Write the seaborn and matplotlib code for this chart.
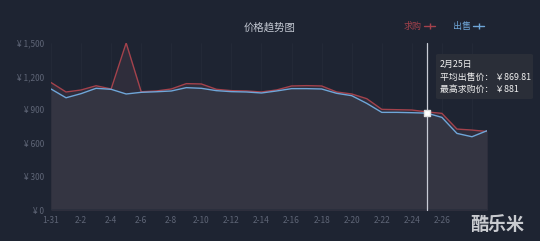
import matplotlib
matplotlib.use("Agg")
import matplotlib.pyplot as plt
import seaborn as sns
import pandas as pd
import numpy as np
from matplotlib.patches import FancyBboxPatch

dates = ["1-31"] + [f"2-{d}" for d in range(1, 30)]
sell_prices = [1087, 1008, 1045, 1093, 1084, 1042, 1057, 1062, 1069, 1099,
               1093, 1072, 1063, 1060, 1051, 1069, 1090, 1090, 1087, 1048,
               1027, 958, 877, 877, 874, 869.81, 832, 688, 658, 712]
buy_prices = [1145, 1060, 1078, 1116, 1087, 1500, 1062, 1069, 1087, 1135,
              1132, 1084, 1072, 1069, 1060, 1078, 1114, 1117, 1114, 1060,
              1042, 1000, 904, 901, 898, 881, 868, 727, 718, 705]
yticks = [0, 300, 600, 900, 1200, 1500]
ytick_labels = ["¥ 0", "¥ 300", "¥ 600", "¥ 900", "¥ 1,200", "¥ 1,500"]
title = "价格趋势图"
legend_names = ["求购", "出售"]
hover_idx = 25
tooltip_lines = ["2月25日", "平均出售价： ￥869.81", "最高求购价： ￥881"]

BG = "#1e2432"
RED = "#a4424c"
BLUE = "#6fa6d8"

sns.set_theme(style="dark")
plt.rcParams['font.family'] = ['Noto Sans CJK SC', 'DejaVu Sans']

df = pd.DataFrame({"x": np.arange(len(dates)), "date": dates,
                   "sell": sell_prices, "buy": buy_prices})

fig = plt.figure(figsize=(5.4, 2.41), dpi=100, facecolor=BG)
ax = fig.add_axes([51/540, 1-210/241, (487-51)/540, (210-43)/241])
ax.set_facecolor(BG)

ax.fill_between(df["x"], df["buy"], color="#2f2d3b", alpha=1.0, lw=0, zorder=1)
ax.fill_between(df["x"], df["sell"], color="#343542", alpha=1.0, lw=0, zorder=1.5)

sns.lineplot(data=df, x="x", y="buy", ax=ax, color=RED, lw=1.0, zorder=3)
sns.lineplot(data=df, x="x", y="sell", ax=ax, color=BLUE, lw=1.0, zorder=3.5)

ax.set_xlim(0, len(dates) - 1)
ax.set_ylim(0, 1500)
ax.set_yticks(yticks)
ax.set_yticklabels(ytick_labels)
xt = list(range(0, 27, 2))
ax.set_xticks(xt)
ax.set_xticklabels([dates[i] for i in xt])
ax.tick_params(axis="both", colors="#5e6576", labelsize=6, length=0, pad=4)
ax.tick_params(axis="y", pad=5)
for lab in ax.get_yticklabels() + ax.get_xticklabels():
    lab.set_color("#5e6576")
ax.set_xlabel("")
ax.set_ylabel("")
for s in ax.spines.values():
    s.set_visible(False)
ax.grid(False)
for i in range(0, len(dates), 2):
    ax.axvline(i, color="#242a38", lw=0.6, zorder=0.5)
ax.axhline(0, color="#2a2f3d", lw=2, zorder=4)

# hover line and marker
ax.plot([hover_idx, hover_idx], [0, 1500], color="#c8ccd6", lw=0.9, zorder=5, clip_on=False)
ax.scatter([hover_idx], [sell_prices[hover_idx]], s=20, marker="s", color="white",
           zorder=6, edgecolor="#dddddd")

# title
fig.text(270/540, 1-27/241, title, color="#c3c8d2", fontsize=7.5, ha="center", va="center")

# legend
fig.text(404/540, 1-26/241, legend_names[0], color=RED, fontsize=6.5, ha="left", va="center")
fig.text(453/540, 1-26/241, legend_names[1], color=BLUE, fontsize=6.5, ha="left", va="center")
for x0, c in [(424, RED), (473, BLUE)]:
    fig.add_artist(plt.Line2D([x0/540, (x0+11)/540], [1-26/241]*2, color=c, lw=1,
                              transform=fig.transFigure))
    fig.add_artist(plt.Line2D([(x0+5.5)/540], [1-26/241], color=c, marker="|", ms=4,
                              transform=fig.transFigure))

# tooltip
box = FancyBboxPatch((436/540, 1-99/241), (533-436)/540, (99-54)/241,
                     boxstyle="round,pad=0,rounding_size=0.005", transform=fig.transFigure,
                     facecolor="#2b2f39", edgecolor="none", alpha=0.95, zorder=10)
fig.add_artist(box)
for j, (t, yy) in enumerate(zip(tooltip_lines, [64, 77, 89])):
    fig.text(440/540, 1-yy/241, t, color="#f0f0f0", fontsize=6.4, ha="left", va="center", zorder=11)

# watermark
fig.text(497/540, 1-224/241, "酷乐米", color="#c9cbd0", fontsize=13, fontweight="bold",
         ha="center", va="center")

fig.savefig("out.png", dpi=100, facecolor=BG)
